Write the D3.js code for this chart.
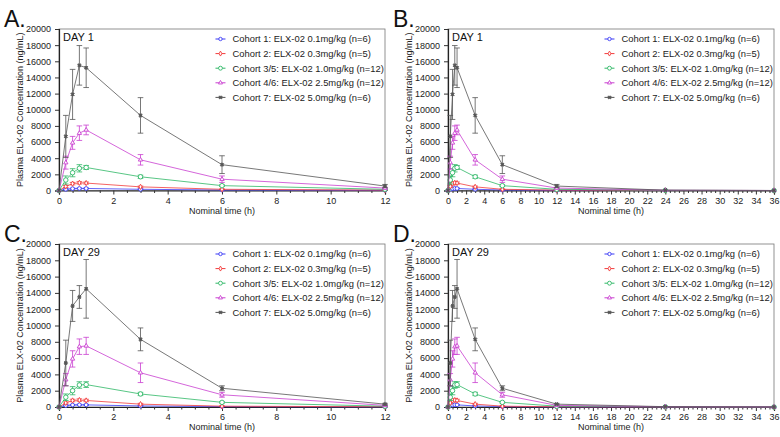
<!DOCTYPE html>
<html><head><meta charset="utf-8">
<script src="https://cdn.jsdelivr.net/npm/d3@7"></script>
<style>body{margin:0;background:#fff}svg{font-family:"Liberation Sans",Arial,sans-serif}</style>
</head><body><svg id="c" width="780" height="437"></svg>
<script>
const cohorts = ["Cohort 1: ELX-02 0.1mg/kg (n=6)","Cohort 2: ELX-02 0.3mg/kg (n=5)","Cohort 3/5: ELX-02 1.0mg/kg (n=12)","Cohort 4/6: ELX-02 2.5mg/kg (n=12)","Cohort 7: ELX-02 5.0mg/kg (n=6)"];
const colors = ["#3b3bf5","#f23b3b","#2fb866","#c93fd0","#555555"];
const shapes = ["circle","diamond","circle","triangle","star"];
const times = [0,0.25,0.5,0.75,1,3,6,12,24,36];
// Day 1 means and SDs
const day1Mean = [
  [0,150,230,250,250,150,60,20,5,0],
  [0,500,850,950,920,450,150,50,10,0],
  [0,1300,2200,2750,2850,1700,600,150,20,0],
  [0,3450,5900,7100,7500,3800,1400,300,30,0],
  [0,6700,11900,15500,15200,9300,3200,550,40,0]
];
const day1SD = [
  [0,40,60,60,60,40,20,10,0,0],
  [0,120,150,150,130,100,50,20,0,0],
  [0,500,500,450,250,200,100,50,0,0],
  [0,800,800,900,600,650,400,100,0,0],
  [0,2600,3100,2450,2450,2200,1100,200,0,0]
];
const day29Mean = [
  [0,180,250,270,260,130,50,10,5,0],
  [0,500,800,850,800,350,100,30,10,0],
  [0,1200,2000,2700,2750,1600,570,100,20,0],
  [0,3350,5900,7400,7500,4200,1500,200,30,0],
  [0,5400,12400,13500,14500,8300,2300,350,40,0]
];
const day29SD = [
  [0,50,60,60,60,30,20,5,0,0],
  [0,120,150,150,150,100,40,10,0,0],
  [0,400,500,400,350,200,80,30,0,0],
  [0,750,1000,950,1050,1200,300,80,0,0],
  [0,2800,1900,1400,3600,1400,300,100,0,0]
];
const yTicks = [0,2000,4000,6000,8000,10000,12000,14000,16000,18000,20000];
const panels = [
  {lab:"A.", day:"DAY 1", mean:day1Mean, sd:day1SD, xmax:12, x0:59, x1:385, y0:29, y1:190.5, lx:4, ly:27},
  {lab:"B.", day:"DAY 1", mean:day1Mean, sd:day1SD, xmax:36, x0:448, x1:774, y0:29, y1:190.5, lx:393, ly:27},
  {lab:"C.", day:"DAY 29", mean:day29Mean, sd:day29SD, xmax:12, x0:59, x1:385, y0:244, y1:407, lx:4, ly:242},
  {lab:"D.", day:"DAY 29", mean:day29Mean, sd:day29SD, xmax:36, x0:448, x1:774, y0:244, y1:407, lx:393, ly:242}
];
const svg = d3.select("#c");
function sym(s, size){
  const t = {circle:d3.symbolCircle, diamond:d3.symbolDiamond, triangle:d3.symbolTriangle, star:d3.symbolCross}[s];
  return d3.symbol().type(t).size(size)();
}
panels.forEach(p=>{
  const g = svg.append("g");
  const x = d3.scaleLinear().domain([0,p.xmax]).range([p.x0,p.x1]);
  const y = d3.scaleLinear().domain([0,20000]).range([p.y1,p.y0]);
  g.append("text").attr("x",p.lx).attr("y",p.ly).attr("font-size",23).attr("fill","#111").text(p.lab);
  g.append("rect").attr("x",p.x0).attr("y",p.y0).attr("width",p.x1-p.x0).attr("height",p.y1-p.y0)
    .attr("fill","none").attr("stroke","#777").attr("stroke-width",0.8);
  const xa = d3.axisBottom(x).tickValues(d3.range(0,p.xmax+0.01,2)).tickSize(4).tickFormat(d3.format("d"));
  const xg = g.append("g").attr("transform",`translate(0,${p.y1})`).call(xa);
  g.append("g").attr("transform",`translate(0,${p.y1})`)
    .call(d3.axisBottom(x).tickValues(d3.range(0,p.xmax+0.01,0.5).filter(v=>v%2!==0)).tickSize(2.5).tickFormat(""))
    .select(".domain").remove();
  const yg = g.append("g").attr("transform",`translate(${p.x0},0)`)
    .call(d3.axisLeft(y).tickValues(yTicks).tickSize(4).tickFormat(d3.format("d")));
  [xg,yg].forEach(a=>{a.selectAll("text").attr("font-size",9).attr("fill","#222").attr("font-family","Liberation Sans, Arial");
    a.select(".domain").attr("stroke","#222").attr("stroke-width",1.2);});
  g.selectAll(".tick line").attr("stroke","#333");
  yg.selectAll("text").attr("dx","-0.1em");
  g.append("text").attr("x",(p.x0+p.x1)/2).attr("y",p.y1+23).attr("text-anchor","middle").attr("font-size",9).attr("fill","#222").text("Nominal time (h)");
  g.append("text").attr("transform",`translate(${p.x0-36},${(p.y0+p.y1)/2}) rotate(-90)`).attr("text-anchor","middle")
    .attr("font-size",9).attr("fill","#222").text("Plasma ELX-02 Concentration (ng/mL)");
  g.append("text").attr("x",p.x0+4).attr("y",p.y0+12).attr("font-size",11).attr("fill","#111").text(p.day);
  const clipId = "clip"+p.lab[0];
  g.append("clipPath").attr("id",clipId).append("rect").attr("x",p.x0-4).attr("y",p.y0-2).attr("width",p.x1-p.x0+8).attr("height",p.y1-p.y0+6);
  const dg = g.append("g").attr("clip-path",`url(#${clipId})`);
  for(let i=0;i<5;i++){
    const pts = times.map((t,j)=>({t, m:p.mean[i][j], s:p.sd[i][j]})).filter(d=>d.t<=p.xmax);
    const c = colors[i];
    dg.append("path").datum(pts).attr("fill","none").attr("stroke",c).attr("stroke-width",0.8)
      .attr("d",d3.line().x(d=>x(d.t)).y(d=>y(d.m)));
    pts.filter(d=>d.s>0).forEach(d=>{
      const cx = x(d.t), w = 2.8;
      dg.append("path").attr("fill","none").attr("stroke",c).attr("stroke-width",0.8)
        .attr("d",`M${cx},${y(d.m-d.s)}V${y(d.m+d.s)}M${cx-w},${y(d.m+d.s)}H${cx+w}M${cx-w},${y(d.m-d.s)}H${cx+w}`);
    });
    const sz = [11,8,16,8,7][i];
    dg.selectAll(null).data(pts).enter().append("path")
      .attr("transform",d=>`translate(${x(d.t)},${y(d.m)})`+(i===4?" rotate(45)":""))
      .attr("d",sym(shapes[i],sz)).attr("fill",i===4?c:"#fff").attr("stroke",c).attr("stroke-width",0.9);
  }
  const lx = p.x0 + (p.x1-p.x0)*0.48, ly0 = p.y0+10;
  cohorts.forEach((name,i)=>{
    const yy = ly0 + i*14.6;
    g.append("line").attr("x1",lx).attr("x2",lx+10).attr("y1",yy).attr("y2",yy).attr("stroke",colors[i]).attr("stroke-width",1);
    g.append("path").attr("transform",`translate(${lx+5},${yy})`+(i===4?" rotate(45)":"")).attr("d",sym(shapes[i],[9,7,12,7,6][i]))
      .attr("fill",i===4?colors[i]:"#fff").attr("stroke",colors[i]).attr("stroke-width",0.9);
    g.append("text").attr("x",lx+17).attr("y",yy+3.3).attr("font-size",9.4).attr("fill","#222").text(name);
  });
});
</script></body></html>
